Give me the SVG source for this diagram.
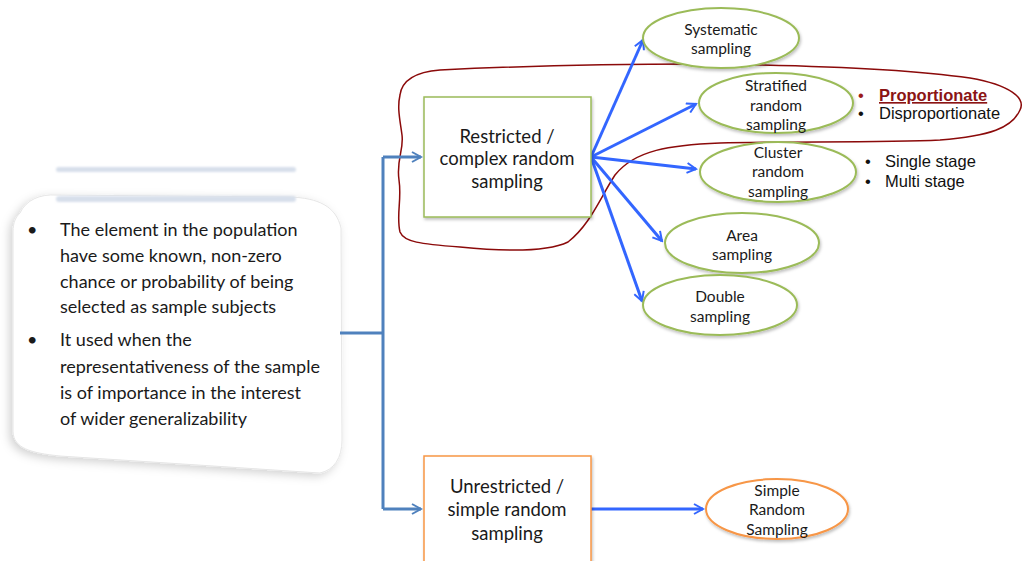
<svg xmlns="http://www.w3.org/2000/svg" width="1024" height="561" viewBox="0 0 1024 561">
  <style>
    .body { font-family: Lato, "Open Sans", sans-serif; fill: #1a1a1a; }
    .box-text { font-size: 18.5px; text-anchor: middle; }
    .ell-text { font-size: 15.5px; text-anchor: middle; }
    .note { font-size: 18px; }
    .side { font-family: "Liberation Sans", Arial, sans-serif; font-size: 16.5px; fill: #111; }
    .ell-g { fill: #ffffff; stroke: #9BBB59; stroke-width: 2; }
    .ell-o { fill: #ffffff; stroke: #F79646; stroke-width: 2; }
    .arrow { stroke: #3366FF; stroke-width: 3; fill: none; marker-end: url(#headBlue); }
    .elbow { stroke: #4F81BD; stroke-width: 3; fill: none; }
  </style>
  <defs>
    <marker id="headBlue" viewBox="0 0 12 12" refX="10" refY="6" markerWidth="4" markerHeight="4" markerUnits="strokeWidth" orient="auto">
      <path d="M1,1 L10,6 L1,11" fill="none" stroke="#3366FF" stroke-width="2"/>
    </marker>
    <marker id="headSteel" viewBox="0 0 12 12" refX="10" refY="6" markerWidth="4" markerHeight="4" markerUnits="strokeWidth" orient="auto">
      <path d="M1,1 L10,6 L1,11" fill="none" stroke="#4F81BD" stroke-width="2"/>
    </marker>
    <filter id="shadow" x="-20%" y="-20%" width="140%" height="140%">
      <feDropShadow dx="1" dy="2" stdDeviation="1.5" flood-color="#000" flood-opacity="0.25"/>
    </filter>
    <filter id="softShadow" x="-20%" y="-20%" width="140%" height="140%">
      <feDropShadow dx="-3" dy="3" stdDeviation="5" flood-color="#000" flood-opacity="0.18"/>
    </filter>
    <filter id="haze" x="-10%" y="-100%" width="120%" height="300%">
      <feGaussianBlur stdDeviation="1.2"/>
    </filter>
  </defs>

  <rect width="1024" height="561" fill="#ffffff"/>

  <!-- note callout -->
  <g id="note">
    <path d="M20,213 C26,200 40,194 56,195 L290,197 C318,198 336,206 341,228 L342,440 C342,458 334,470 320,473 L60,456 C30,453 14,448 13,432 L13,232 C13,222 16,217 20,213 Z"
          fill="#ffffff" stroke="#e6e6e6" stroke-width="1" filter="url(#softShadow)"/>
    <g class="body note">
      <text x="27" y="236">•</text>
      <text x="60" y="236">The element in the population</text>
      <text x="60" y="262">have some known, non-zero</text>
      <text x="60" y="288">chance or probability of being</text>
      <text x="60" y="313">selected as sample subjects</text>
      <text x="27" y="346">•</text>
      <text x="60" y="346">It used when the</text>
      <text x="60" y="373">representativeness of the sample</text>
      <text x="60" y="399">is of importance in the interest</text>
      <text x="60" y="425">of wider generalizability</text>
    </g>
  </g>

  <!-- pale bars above the note -->
  <g id="bars" filter="url(#haze)">
    <rect x="56" y="167" width="240" height="5" rx="2.5" fill="#d7dfeb"/>
    <rect x="56" y="196" width="240" height="6" rx="3" fill="#d7dfeb"/>
  </g>

  <!-- grouping loop -->
  <g id="loop">
    <path d="M400,95 C402,80 415,72 440,70 C520,66 600,64 700,64 C800,65 900,68 970,78 C1010,85 1026,98 1020,110 C1012,128 990,136 940,140 C880,143 780,141 720,143 C670,145 635,150 615,175 C600,198 590,225 568,242 C545,253 500,251 460,247 C420,244 404,242 400,232 C396,215 402,200 399,180 C396,160 404,150 402,135 C400,120 397,108 400,95 Z"
          fill="none" stroke="#8B0A0A" stroke-width="1.5"/>
  </g>

  <!-- connectors -->
  <g id="connectors">
    <path class="elbow" d="M340,333 L383,333"/>
    <path class="elbow" d="M383,157 L383,509"/>
    <path class="elbow" d="M383,157 L421,157" marker-end="url(#headSteel)"/>
    <path class="elbow" d="M383,509 L421,509" marker-end="url(#headSteel)"/>
    <path class="arrow" d="M591,157 L643,40"/>
    <path class="arrow" d="M591,157 L696,104"/>
    <path class="arrow" d="M591,157 L696,169"/>
    <path class="arrow" d="M591,157 L662,241"/>
    <path class="arrow" d="M591,157 L642,301"/>
    <path class="arrow" d="M591,509 L703,509"/>
  </g>

  <!-- main boxes -->
  <g id="restricted">
    <rect x="424" y="97" width="167" height="120" fill="#ffffff" stroke="#9BBB59" stroke-width="1.5" filter="url(#shadow)"/>
    <g class="body box-text">
      <text x="507" y="143">Restricted /</text>
      <text x="507" y="165">complex random</text>
      <text x="507" y="188">sampling</text>
    </g>
  </g>
  <g id="unrestricted">
    <rect x="424" y="456" width="167" height="115" fill="#ffffff" stroke="#F79646" stroke-width="1.5" filter="url(#shadow)"/>
    <g class="body box-text">
      <text x="507" y="493">Unrestricted /</text>
      <text x="507" y="516">simple random</text>
      <text x="507" y="540">sampling</text>
    </g>
  </g>

  <!-- sampling methods -->
  <g id="systematic">
    <ellipse class="ell-g" cx="721" cy="38" rx="78" ry="30" filter="url(#shadow)"/>
    <g class="body ell-text">
      <text x="721" y="35">Systematic</text>
      <text x="721" y="54">sampling</text>
    </g>
  </g>
  <g id="stratified">
    <ellipse class="ell-g" cx="776" cy="103" rx="77" ry="30" filter="url(#shadow)"/>
    <g class="body ell-text">
      <text x="776" y="91">Stratified</text>
      <text x="776" y="111">random</text>
      <text x="776" y="130">sampling</text>
    </g>
  </g>
  <g id="cluster">
    <ellipse class="ell-g" cx="778" cy="172" rx="78" ry="30" filter="url(#shadow)"/>
    <g class="body ell-text">
      <text x="778" y="158">Cluster</text>
      <text x="778" y="177">random</text>
      <text x="778" y="197">sampling</text>
    </g>
  </g>
  <g id="area">
    <ellipse class="ell-g" cx="742" cy="243" rx="77" ry="30" filter="url(#shadow)"/>
    <g class="body ell-text">
      <text x="742" y="241">Area</text>
      <text x="742" y="260">sampling</text>
    </g>
  </g>
  <g id="double">
    <ellipse class="ell-g" cx="720" cy="305" rx="77" ry="30" filter="url(#shadow)"/>
    <g class="body ell-text">
      <text x="720" y="302">Double</text>
      <text x="720" y="322">sampling</text>
    </g>
  </g>
  <g id="simple">
    <ellipse class="ell-o" cx="777" cy="509" rx="71" ry="30" filter="url(#shadow)"/>
    <g class="body ell-text">
      <text x="777" y="496">Simple</text>
      <text x="777" y="515">Random</text>
      <text x="777" y="535">Sampling</text>
    </g>
  </g>

  <!-- sub-type lists -->
  <g id="stratified-types" class="side">
    <text x="858" y="101" fill="#9B1B1B">•</text>
    <text x="879" y="101" font-weight="bold" fill="#8B1414" text-decoration="underline">Proportionate</text>
    <text x="858" y="119">•</text>
    <text x="879" y="119">Disproportionate</text>
  </g>
  <g id="cluster-types" class="side">
    <text x="865" y="167">•</text>
    <text x="885" y="167">Single stage</text>
    <text x="865" y="187">•</text>
    <text x="885" y="187">Multi stage</text>
  </g>
</svg>
